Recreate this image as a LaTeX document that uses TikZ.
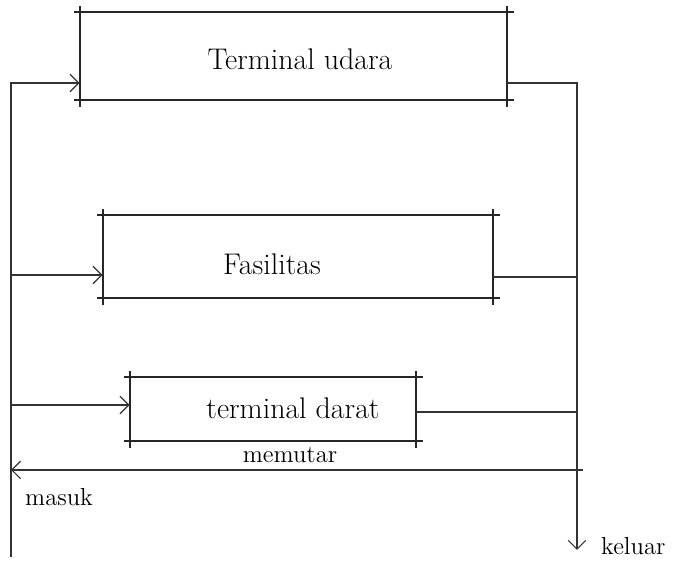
\documentclass[tikz,border=0pt]{standalone}
\usepackage{xcolor}
\usepackage{tikz}
\usetikzlibrary{arrows.meta,positioning}

\begin{document}
\begin{tikzpicture}[
  zone/.style={rectangle, inner sep=0pt},
  edge/.style={line width=1.1pt, black!85, shorten <=-3pt, shorten >=-4pt},
  flow/.style={line width=0.7pt, black!80},
  tip/.style={-{Straight Barb[length=5pt,width=10pt]}},
  title/.style={font=\fontsize{17}{19}\selectfont},
  note/.style={font=\fontsize{14}{16}\selectfont},
]
\useasboundingbox (0,0) rectangle (13.64,-11.26);

% Main boxes
\node[zone, minimum width=8.54cm, minimum height=1.76cm] (air) at (5.87,-1.12) {};
\node[zone, minimum width=7.8cm, minimum height=1.66cm] (fac) at (5.96,-5.13) {};
\node[zone, minimum width=5.72cm, minimum height=1.28cm] (land) at (5.46,-8.18) {};

% Box edges, running a bit past the corners
\foreach \b in {air,fac,land} {
  \draw[edge] (\b.north west) -- (\b.north east);
  \draw[edge] (\b.south west) -- (\b.south east);
  \draw[edge] (\b.north west) -- (\b.south west);
  \draw[edge] (\b.north east) -- (\b.south east);
}

% Box labels
\node[title] (airtext) at (6.0,-1.18) {Terminal udara};
\node[title] (factext) at (5.44,-5.28) {Fasilitas};
\node[title] (landtext) at (5.86,-8.16) {terminal darat};

% Points on the two rails
\coordinate (masuk) at (0.22,-11.14);
\coordinate (keluar) at (11.54,-11.0);
\coordinate (l2) at (0.22,-5.5);
\coordinate (l3) at (0.22,-8.1);
\coordinate (r2) at (11.54,-5.54);
\coordinate (r3) at (11.54,-8.24);
\coordinate (turn) at (11.66,-9.4);

% Entry rail and branches into the boxes
\draw[flow, tip] (masuk) |- ([yshift=-0.54cm]air.west);
\draw[flow, tip] (l2) -- (fac.west |- l2);
\draw[flow, tip] (l3) -- (land.west |- l3);

% Exit rail
\draw[flow, tip] ([yshift=-0.54cm]air.east) -| (keluar);
\draw[flow] (fac.east |- r2) -- (r2);
\draw[flow] (land.east |- r3) -- (r3);

% Turning back
\draw[flow, tip] (turn) -- (masuk |- turn);

% Labels
\node[note] (turntext) at (5.8,-9.1) {memutar};
\node[note, anchor=west] (intext) at (0.38,-9.94) {masuk};
\node[note, anchor=west] (outtext) at (11.9,-10.92) {keluar};
\end{tikzpicture}
\end{document}
